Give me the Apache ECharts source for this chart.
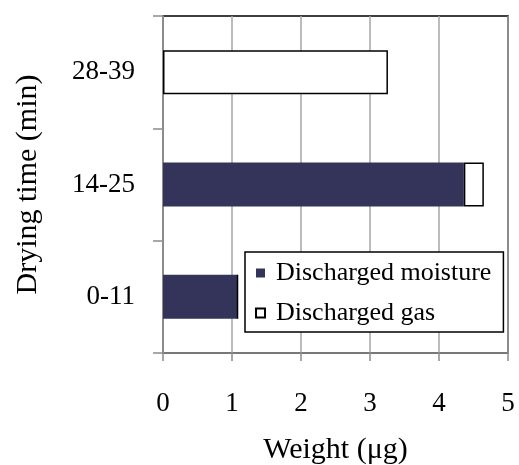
<!DOCTYPE html>
<html>
<head>
<meta charset="utf-8">
<style>
  html, body { margin: 0; padding: 0; background: #fff; }
  #chart { width: 519px; height: 465px; }
</style>
<script src="https://cdn.jsdelivr.net/npm/echarts@6/dist/echarts.min.js"></script>
</head>
<body>
<div id="chart"></div>
<script>
// drying time bins (bottom to top)
var categories = ['0-11', '14-25', '28-39'];
var moisture = [1.08, 4.36, 0];
var gas = [0, 0.29, 3.26];
var xTicks = [0, 1, 2, 3, 4, 5];

var font = '"Liberation Serif", "Times New Roman", serif';
var grey = '#8c8c8c';

var chart = echarts.init(document.getElementById('chart'));
chart.setOption({
    animation: false,
    textStyle: { fontFamily: font },
    grid: {
        left: 163, right: 11, top: 16, bottom: 112,
        outerBoundsMode: 'none',
        containLabel: false,
        show: true,
        borderColor: '#000',
        borderWidth: 1.5
    },
    legend: {
        orient: 'vertical',
        left: 245, top: 252,
        padding: [8, 12, 6, 10],
        itemGap: 14,
        itemWidth: 9, itemHeight: 9,
        borderColor: '#000',
        borderWidth: 1.5,
        backgroundColor: '#fff',
        textStyle: { fontFamily: font, fontSize: 26, color: '#000', padding: [0, 0, 0, 6] },
        data: [
            { name: 'Discharged moisture', icon: 'rect' },
            { name: 'Discharged gas', icon: 'rect' }
        ]
    },
    xAxis: {
        type: 'value',
        min: 0, max: 5, interval: 1,
        name: 'Weight (μg)',
        nameLocation: 'middle',
        nameGap: 82,
        nameTextStyle: { fontFamily: font, fontSize: 30, color: '#000' },
        axisLine: { show: true, lineStyle: { color: grey, width: 1.5 } },
        axisTick: { show: true, length: 8, lineStyle: { color: grey, width: 1.5 } },
        axisLabel: { fontFamily: font, fontSize: 27, color: '#000', margin: 37,
            formatter: function (v) { return xTicks.indexOf(v) >= 0 ? String(v) : ''; } },
        splitLine: { show: true, lineStyle: { color: '#a6a6a6', width: 1.5 } }
    },
    yAxis: {
        type: 'category',
        data: categories,
        name: 'Drying time (min)',
        nameLocation: 'middle',
        nameGap: 120,
        nameTextStyle: { fontFamily: font, fontSize: 30, color: '#000' },
        axisLine: { show: true, lineStyle: { color: grey, width: 1.5 } },
        axisTick: { show: true, length: 10, alignWithLabel: false, lineStyle: { color: grey, width: 1.5 } },
        axisLabel: { fontFamily: font, fontSize: 27, color: '#000', margin: 28 },
        splitLine: { show: false }
    },
    series: [
        {
            name: 'Discharged moisture',
            type: 'bar',
            stack: 'total',
            barWidth: 44,
            data: moisture,
            itemStyle: { color: '#34345a', borderColor: '#34345a', borderWidth: 0 }
        },
        {
            name: 'Discharged gas',
            type: 'bar',
            stack: 'total',
            barWidth: 44,
            data: gas,
            itemStyle: { color: '#fff', borderColor: '#000', borderWidth: 1.5 }
        }
    ]
});
</script>
</body>
</html>
